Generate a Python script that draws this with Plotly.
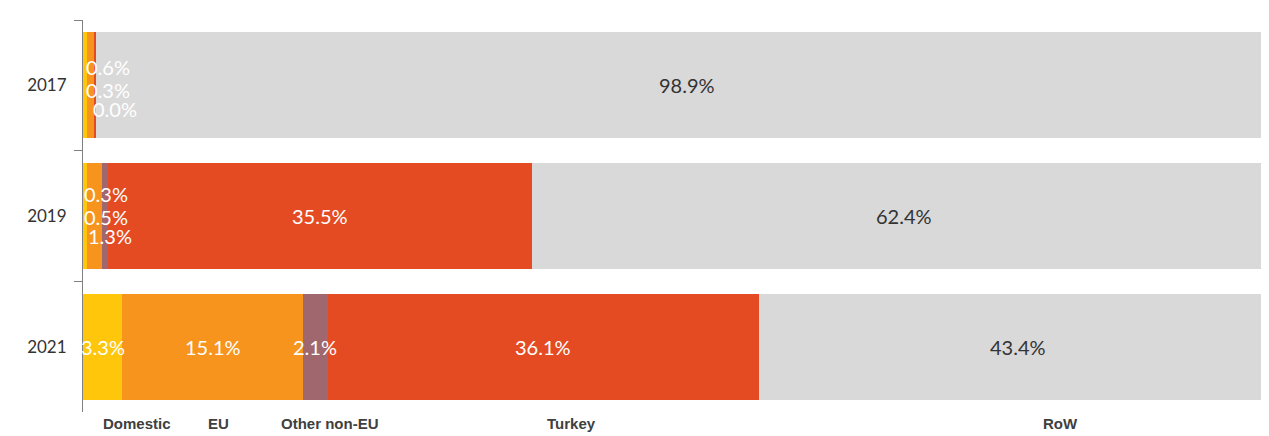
import plotly.graph_objects as go

years = ["2017", "2019", "2021"]
series = ["Domestic", "EU", "Other non-EU", "Turkey", "RoW"]
domestic = [0.3, 0.3, 3.3]
eu = [0.6, 1.3, 15.1]
other_non_eu = [0.0, 0.5, 2.1]
turkey = [0.2, 35.5, 36.1]
row = [98.9, 62.4, 43.4]
values = [domestic, eu, other_non_eu, turkey, row]

# which value labels are shown
shown = {
    "2017": [True, True, True, False, True],
    "2019": [True, True, True, True, True],
    "2021": [True, True, True, True, True],
}
# small labels stacked beside the bar start (px offsets: dx, dy)
small_layout = {
    "2017": {"EU": (1, -18), "Domestic": (1, 5), "Other non-EU": (8, 24)},
    "2019": {"Domestic": (-1, -22), "Other non-EU": (-1, 1), "EU": (3, 20)},
}

colors = ["#FFC60B", "#F7941D", "#A0686E", "#E54B22", "#D9D9D9"]
text_colors = ["white", "white", "white", "white", "#333333"]
FONT = "Lato, 'Noto Sans', sans-serif"

fig = go.Figure()
for name, vals, c in zip(series, values, colors):
    fig.add_trace(go.Bar(
        y=years, x=vals, name=name, orientation="h",
        marker=dict(color=c, line=dict(width=0)),
        hoverinfo="x+name", showlegend=False,
    ))

annotations = []
for yi, yr in enumerate(years):
    cum = 0.0
    for si, name in enumerate(series):
        v = values[si][yi]
        start = cum
        cum += v
        if not shown[yr][si]:
            continue
        txt = f"{v:.1f}%"
        if yr in small_layout and name in small_layout[yr]:
            dx, dy = small_layout[yr][name]
            annotations.append(dict(
                x=0, y=yi, xref="x", yref="y", text=txt, showarrow=False,
                xanchor="left", yanchor="middle", xshift=dx, yshift=-dy,
                font=dict(family=FONT, size=20, color=text_colors[si]),
            ))
        else:
            annotations.append(dict(
                x=start + v / 2, y=yi, xref="x", yref="y", text=txt, showarrow=False,
                xanchor="center", yanchor="middle",
                font=dict(family=FONT, size=20, color=text_colors[si]),
            ))

legend_x = [0.0455, 0.1138, 0.2066, 0.4089, 0.8187]
for name, lx in zip(series, legend_x):
    annotations.append(dict(
        x=lx, y=0, xref="paper", yref="paper", text=f"<b>{name}</b>", showarrow=False,
        xanchor="center", yanchor="top", yshift=-1,
        font=dict(family="'Liberation Sans', Arial, sans-serif", size=15, color="#404040"),
    ))

fig.update_layout(
    barmode="stack",
    bargap=0.19,
    width=1269, height=428,
    margin=dict(l=75, r=0, t=12, b=24),
    plot_bgcolor="white", paper_bgcolor="white",
    annotations=annotations,
    xaxis=dict(range=[0, 100], visible=False, fixedrange=True),
    yaxis=dict(
        type="category", categoryorder="array", categoryarray=years,
        range=[2.5, -0.5], showline=True, linecolor="#808080", linewidth=1,
        ticks="outside", tickson="boundaries", ticklen=8, tickcolor="#808080",
        showgrid=False, zeroline=False, fixedrange=True,
        tickfont=dict(family=FONT, size=17, color="#333333"),
        ticklabelstandoff=12,
    ),
)

fig.write_html("out.html")
